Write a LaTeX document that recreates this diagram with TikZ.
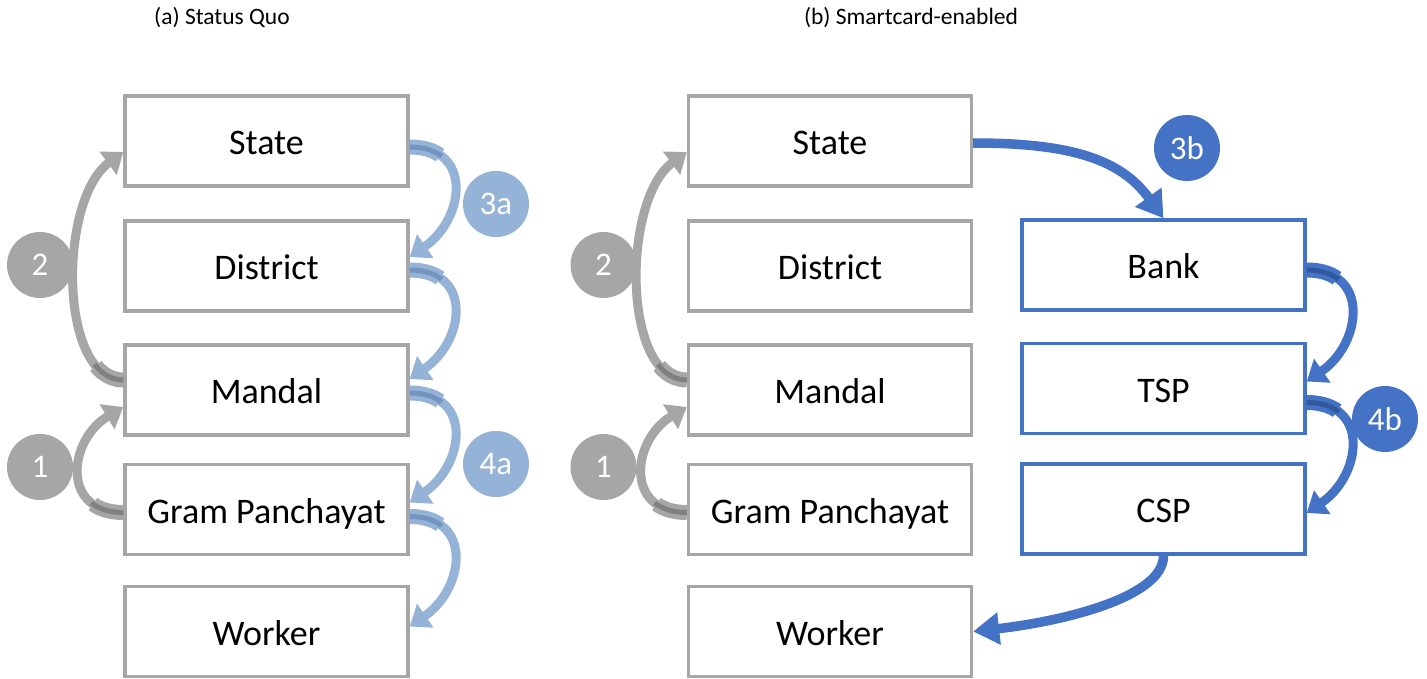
\documentclass[tikz,border=0pt]{standalone}
\usepackage{fontspec}
\setmainfont{Carlito}
\usetikzlibrary{arrows.meta}
\definecolor{boxgray}{HTML}{A6A6A6}
\definecolor{graydark}{HTML}{808080}
\definecolor{lblue}{HTML}{95B3D7}
\definecolor{lbluedark}{HTML}{7394BE}
\definecolor{dblue}{HTML}{4472C4}
\definecolor{dbluedark}{HTML}{30589F}
\tikzset{
  box/.style={draw=boxgray, line width=3.4pt, fill=white, minimum width=283pt, minimum height=90pt, inner sep=0pt, text height=27pt, text depth=0pt, font=\fontsize{36}{40}\selectfont},
  bbox/.style={box, draw=dblue},
  num/.style={circle, minimum size=66pt, inner sep=0pt, text=white, font=\fontsize{33}{38}\selectfont},
  graynum/.style={num, fill=boxgray},
  lnum/.style={num, fill=lblue},
  dnum/.style={num, fill=dblue},
  ribbon/.style={draw=#1, line width=9pt, -{Triangle[length=19pt,width=28pt]},
    postaction={draw=#1, line width=15pt, -, dash pattern=on 32pt off 2000pt}},
  grayarr/.style={ribbon=boxgray, postaction={draw=graydark, line width=5pt, -, dash pattern=on 34pt off 2000pt}},
  lightarr/.style={ribbon=lblue, postaction={draw=lbluedark, line width=5pt, -, dash pattern=on 34pt off 2000pt}},
  bluearr/.style={ribbon=dblue, postaction={draw=dbluedark, line width=5pt, -, dash pattern=on 34pt off 2000pt}},
  bigarr/.style={draw=dblue, line width=9.5pt, -{Triangle[length=26pt,width=31pt]}},
  title/.style={font=\fontsize{23.5}{28}\selectfont}
}
\begin{document}
\begin{tikzpicture}[x=1pt, y=-1pt]
\useasboundingbox (0,0) rectangle (1427,679);
% titles
\node[title] (ta) at (222,18) {(a) Status Quo};
\node[title] (tb) at (911,18) {(b) Smartcard-enabled};
% left panel
\node[box] (state1) at (266.5,141) {State};
\node[box] (district1) at (266.5,266) {District};
\node[box] (mandal1) at (266.5,390) {Mandal};
\node[box] (gp1) at (266.5,509.5) {Gram Panchayat};
\node[box] (worker1) at (266.5,631.5) {Worker};
\node[graynum] (c2a) at (40,265) {2};
\node[graynum] (c1a) at (40,467) {1};
\node[lnum] (c3a) at (496,204) {3a};
\node[lnum] (c4a) at (496,464) {4a};
\draw[grayarr] ([yshift=10pt]mandal1.west) .. controls +(-65,0) and +(-65,48) .. ([yshift=-11pt]state1.west);
\draw[grayarr] ([yshift=-3pt]gp1.west) .. controls +(-63,0) and +(-55,33) .. ([yshift=-17pt]mandal1.west);
\draw[lightarr] ([yshift=-6pt]state1.east) .. controls +(64,0) and +(55,-38) .. ([yshift=9pt]district1.east);
\draw[lightarr] ([yshift=-4pt]district1.east) .. controls +(64,0) and +(55,-38) .. ([yshift=11pt]mandal1.east);
\draw[lightarr] ([yshift=-3pt]mandal1.east) .. controls +(64,0) and +(55,-38) .. ([yshift=7pt]gp1.east);
\draw[lightarr] ([yshift=-7pt]gp1.east) .. controls +(64,0) and +(55,-38) .. ([yshift=5pt]worker1.east);
% right panel
\node[box] (state2) at (830,141) {State};
\node[box] (district2) at (830,266) {District};
\node[box] (mandal2) at (830,390) {Mandal};
\node[box] (gp2) at (830,509.5) {Gram Panchayat};
\node[box] (worker2) at (830,631.5) {Worker};
\node[bbox] (bank) at (1163.5,265) {Bank};
\node[bbox] (tsp) at (1163.5,388.5) {TSP};
\node[bbox] (csp) at (1163.5,509) {CSP};
\node[graynum] (c2b) at (603.5,265) {2};
\node[graynum] (c1b) at (603.5,467) {1};
\node[dnum] (c3b) at (1187,148) {3b};
\node[dnum] (c4b) at (1385,419) {4b};
\draw[grayarr] ([yshift=10pt]mandal2.west) .. controls +(-65,0) and +(-65,48) .. ([yshift=-11pt]state2.west);
\draw[grayarr] ([yshift=-3pt]gp2.west) .. controls +(-63,0) and +(-55,33) .. ([yshift=-17pt]mandal2.west);
\draw[bluearr] ([yshift=-5pt]bank.east) .. controls +(64,0) and +(55,-38) .. ([yshift=7pt]tsp.east);
\draw[bluearr] ([yshift=-14pt]tsp.east) .. controls +(64,0) and +(55,-38) .. ([yshift=-4pt]csp.east);
\draw[bigarr] ([yshift=-2pt]state2.east) .. controls +(100,0) and +(-42,-58) .. (bank.north);
\draw[bigarr] (csp.south) .. controls +(0,42) and +(88,-10) .. (worker2.east);
\end{tikzpicture}
\end{document}
